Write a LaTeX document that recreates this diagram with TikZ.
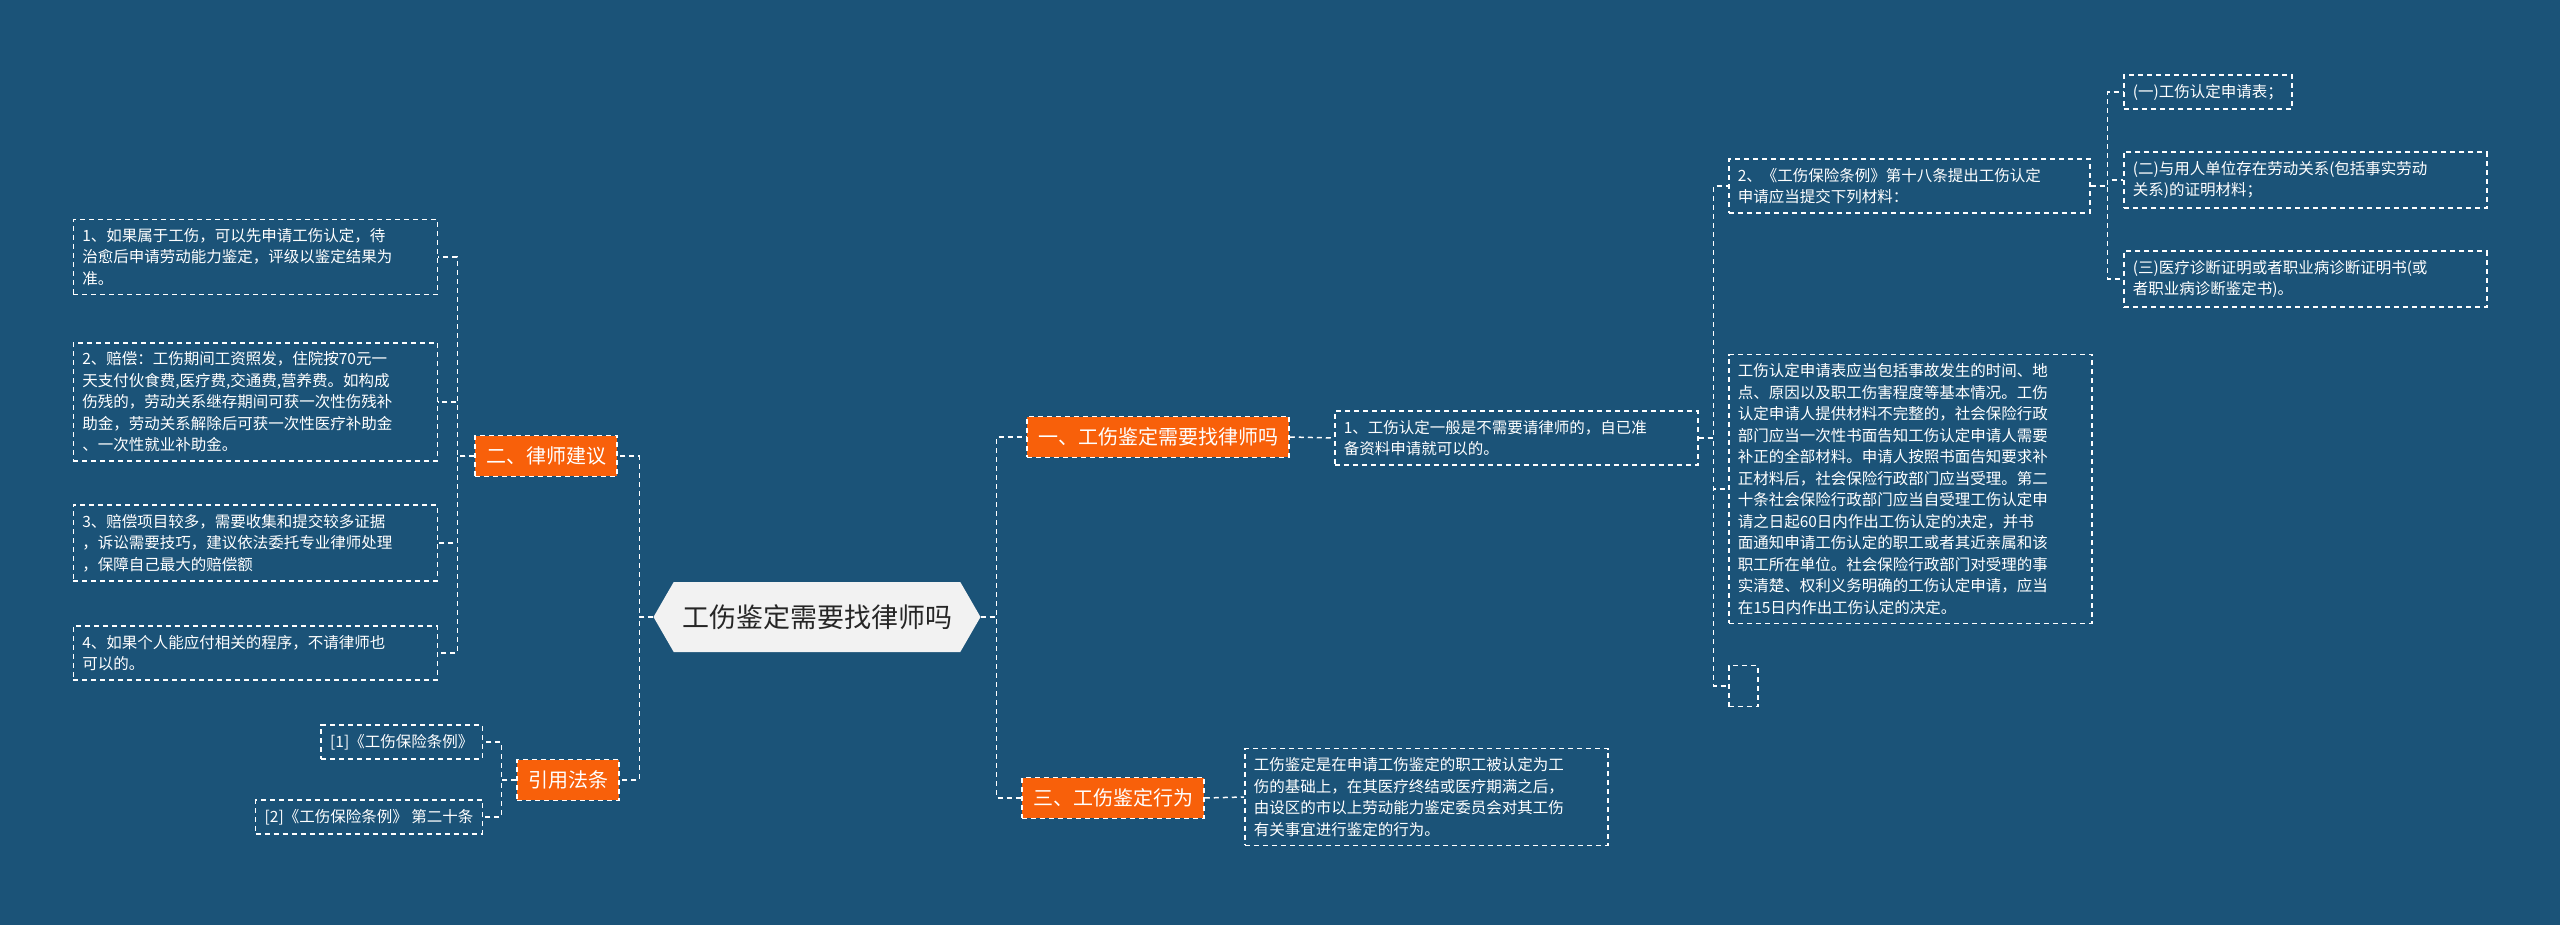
\documentclass[tikz,border=0pt]{standalone}
\usepackage{fontspec}
\setmainfont{Noto Sans CJK SC}
\usetikzlibrary{shapes.symbols}
\definecolor{bg}{HTML}{1B5378}
\definecolor{org}{HTML}{F8600A}
\definecolor{cen}{HTML}{F2F2F2}
\begin{document}
\begin{tikzpicture}[x=1pt,y=-1pt,
  dsh/.style={dash pattern=on 5pt off 4pt,line width=1.5pt,draw=white},
  leaf/.style={dsh,text=white,align=left,font=\fontsize{15.5}{21.5}\selectfont,inner xsep=9pt,inner ysep=9pt},
  topic/.style={dsh,fill=org,text=white,font=\fontsize{20}{24}\selectfont,inner xsep=11pt,inner ysep=11pt},
  con/.style={dsh}]
\fill[bg] (0,0) rectangle (2560,925);
\useasboundingbox (0,0) rectangle (2560,925);
\node[signal,signal to=west and east,fill=cen,text=black!85,font=\fontsize{27}{30}\selectfont,minimum height=70pt,minimum width=327pt,inner xsep=8pt,signal pointer angle=120] (c) at (817,617) {工伤鉴定需要找律师吗};
% left
\node[topic] (t2) at (546,456) {二、律师建议};
\node[topic] (t4) at (568,780) {引用法条};
\node[leaf,text width=346pt,anchor=east] (l1) at (438,257) {1、如果属于工伤，可以先申请工伤认定，待\\治愈后申请劳动能力鉴定，评级以鉴定结果为\\准。};
\node[leaf,text width=346pt,anchor=east] (l2) at (438,402) {2、赔偿：工伤期间工资照发，住院按70元一\\天支付伙食费,医疗费,交通费,营养费。如构成\\伤残的，劳动关系继存期间可获一次性伤残补\\助金，劳动关系解除后可获一次性医疗补助金\\、一次性就业补助金。};
\node[leaf,text width=346pt,anchor=east] (l3) at (438,543) {3、赔偿项目较多，需要收集和提交较多证据\\，诉讼需要技巧，建议依法委托专业律师处理\\，保障自己最大的赔偿额};
\node[leaf,text width=346pt,anchor=east] (l4) at (438,653) {4、如果个人能应付相关的程序，不请律师也\\可以的。};
\node[leaf,anchor=east] (r1) at (483,742) {[1]《工伤保险条例》};
\node[leaf,anchor=east] (r2) at (483,817) {[2]《工伤保险条例》 第二十条};
% right
\node[topic] (t1) at (1158,437) {一、工伤鉴定需要找律师吗};
\node[topic] (t3) at (1113,798) {三、工伤鉴定行为};
\node[leaf,text width=345pt,anchor=west] (a1) at (1334,438) {1、工伤认定一般是不需要请律师的，自已准\\备资料申请就可以的。};
\node[leaf,text width=345pt,anchor=west] (b1) at (1244,797) {工伤鉴定是在申请工伤鉴定的职工被认定为工\\伤的基础上，在其医疗终结或医疗期满之后，\\由设区的市以上劳动能力鉴定委员会对其工伤\\有关事宜进行鉴定的行为。};
\node[leaf,text width=343pt,anchor=west] (a2) at (1728,186) {2、《工伤保险条例》第十八条提出工伤认定\\申请应当提交下列材料：};
\node[leaf,text width=345pt,anchor=west] (a3) at (1728,489) {工伤认定申请表应当包括事故发生的时间、地\\点、原因以及职工伤害程度等基本情况。工伤\\认定申请人提供材料不完整的，社会保险行政\\部门应当一次性书面告知工伤认定申请人需要\\补正的全部材料。申请人按照书面告知要求补\\正材料后，社会保险行政部门应当受理。第二\\十条社会保险行政部门应当自受理工伤认定申\\请之日起60日内作出工伤认定的决定，并书\\面通知申请工伤认定的职工或者其近亲属和该\\职工所在单位。社会保险行政部门对受理的事\\实清楚、权利义务明确的工伤认定申请，应当\\在15日内作出工伤认定的决定。};
\node[dsh,minimum width=29pt,minimum height=41pt,anchor=west] (a4) at (1728,686) {};
\node[leaf,anchor=west] (s1) at (2123,92) {(一)工伤认定申请表；};
\node[leaf,text width=345pt,anchor=west] (s2) at (2123,180) {(二)与用人单位存在劳动关系(包括事实劳动\\关系)的证明材料；};
\node[leaf,text width=345pt,anchor=west] (s3) at (2123,279) {(三)医疗诊断证明或者职业病诊断证明书(或\\者职业病诊断鉴定书)。};
% connectors
\foreach \n in {t1,t3} \draw[con] (c.east) -- ++(16,0) |- (\n.west);
\foreach \n in {t2,t4} \draw[con] (c.west) -- ++(-14,0) |- (\n.east);
\foreach \n in {l1,l2,l3,l4} \draw[con] (t2.west) -- ++(-17,0) |- (\n.east);
\foreach \n in {r1,r2} \draw[con] (t4.west) -- ++(-15,0) |- (\n.east);
\draw[con] (t1.east) -- (a1.west);
\draw[con] (t3.east) -- (b1.west);
\foreach \n in {a2,a3,a4} \draw[con] (a1.east) -- ++(15,0) |- (\n.west);
\foreach \n in {s1,s2,s3} \draw[con] (a2.east) -- ++(17,0) |- (\n.west);
\end{tikzpicture}
\end{document}
